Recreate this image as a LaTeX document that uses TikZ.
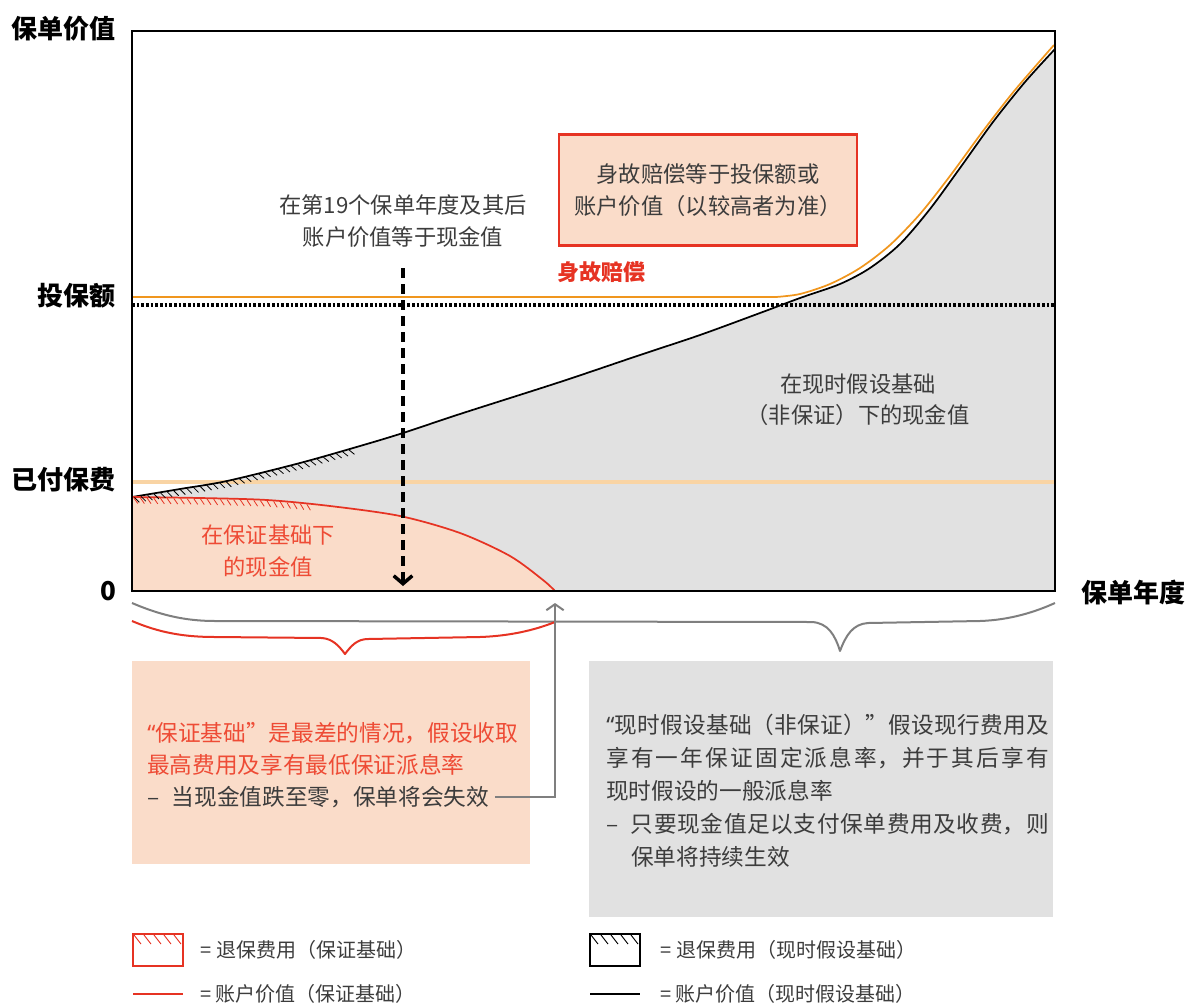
\documentclass[tikz,border=0pt]{standalone}
\usepackage{fontspec}
\setmainfont{Noto Sans CJK SC}
\newfontfamily\quotefont{Noto Sans}
\usetikzlibrary{positioning,arrows.meta,decorations.markings}
\XeTeXlinebreaklocale "zh"
\XeTeXlinebreakskip=0pt plus 2pt

\definecolor{redline}{HTML}{E63323}
\definecolor{redtext}{HTML}{EE4B35}
\definecolor{salmon}{HTML}{FADCC9}
\definecolor{areagray}{HTML}{E1E1E1}
\definecolor{orangeline}{HTML}{F0961E}
\definecolor{paleorange}{HTML}{F9D4A4}
\definecolor{darktext}{HTML}{3C3C3C}
\definecolor{guide}{HTML}{7F7F7F}

\newcommand{\openq}{{\quotefont “}}

\tikzset{
  axislabel/.style={font=\fontsize{19.5}{22}\selectfont\bfseries, text=black},
  chartnote/.style={font=\fontsize{16.7}{23.5}\selectfont, align=center, text=darktext},
  boxtext/.style={font=\fontsize{17}{24}\selectfont, align=left, text=darktext, anchor=west},
  legendtext/.style={font=\fontsize{15}{17}\selectfont, text=darktext, anchor=west},
  legendbox/.style={draw, line width=0.9pt, minimum width=37.5pt, minimum height=24pt},
  hatchmarks/.style={decorate, decoration={markings,
      mark=between positions 0.01 and 0.99 step 5pt with {\draw[#1, line width=0.6pt] (0pt,-0.6pt) -- (3pt,-4.8pt);}}},
  bracestroke/.style={line width=1.5pt, line join=round}
}

\begin{document}
\begin{tikzpicture}[x=0.75pt, y=-0.75pt, every node/.style={inner sep=0pt}]
  \useasboundingbox (0,0) rectangle (1188,1003);

  % cash value areas
  \fill[areagray] (132,591) -- plot[smooth] coordinates {(132,497) (180,489) (227,481) (300,463) (360,446) (403,433) (460,414) (560,382) (640,355) (700,335) (760,313) (800,298) (840,284) (870,268) (900,244) (930,209) (960,168) (993,122) (1025,82) (1055,49)} -- (1055,591) -- cycle;
  \fill[salmon] (132,591) -- plot[smooth] coordinates {(132,497) (200,498) (267,500) (330,506) (400,516) (460,533) (510,556) (543,580) (555,591)} -- cycle;

  % levels
  \draw[paleorange, line width=3pt] (132,482) -- (1055,482);
  \draw[black, line width=2.4pt, dash pattern=on 2pt off 1.5pt] (132,305) -- (1055,305);
  \draw[orangeline, line width=1.3pt] (132,297) -- (776,297) -- plot[smooth] coordinates {(776,297) (800,294) (830,284) (860,268) (890,245) (920,214) (950,176) (983,131) (1015,90) (1054,45)};

  % account values
  \draw[black, line width=1.3pt] plot[smooth] coordinates {(132,497) (180,489) (227,481) (300,463) (360,446) (403,433) (460,414) (560,382) (640,355) (700,335) (760,313) (800,298) (840,284) (870,268) (900,244) (930,209) (960,168) (993,122) (1025,82) (1055,49)};
  \draw[redline, line width=1.3pt] plot[smooth] coordinates {(132,497) (200,498) (267,500) (330,506) (400,516) (460,533) (510,556) (543,580) (555,591)};

  % surrender charges
  \path[hatchmarks=black] (132,497) -- (180,489) -- (227,481) -- (300,463) -- (357,447);
  \path[hatchmarks=redline] (132,497) -- (200,498) -- (267,500) -- (313,504);

  \draw[line width=2pt] (132,31) rectangle (1055,591);

  % axes
  \node[axislabel] (valuelbl) at (64,29) {保单价值};
  \node[axislabel, anchor=east] (sumlbl) at (116,296) {投保额};
  \node[axislabel, anchor=east] (premlbl) at (116,480) {已付保费};
  \node[axislabel, anchor=east] (zerolbl) at (117,591) {0};
  \node[axislabel] (yearlbl) at (1133,592) {保单年度};

  % notes in the chart
  \node[chartnote] (yearnote) at (403,221) {在第19个保单年度及其后\\账户价值等于现金值};
  \coordinate (arrtop) at (403,268);
  \coordinate (arrbot) at (403,586);
  \draw[line width=2.6pt, dash pattern=on 7.5pt off 4.5pt, -{Straight Barb[length=6pt,width=14pt]}] (arrtop) -- (arrbot);

  \node[chartnote, draw=redline, line width=2pt, fill=salmon, minimum width=223.5pt, minimum height=83pt] (deathnote) at (708,190) {身故赔偿等于投保额或\\账户价值（以较高者为准）};
  \node[chartnote, font=\fontsize{16.5}{20}\selectfont\bfseries, text=redline] (deathlbl) at (601,272) {身故赔偿};
  \node[chartnote] (curnote) at (858,400) {在现时假设基础\\（非保证）下的现金值};
  \node[chartnote, text=redtext] (guarnote) at (268,551) {在保证基础下\\的现金值};

  % braces
  \draw[guide, bracestroke] (132,603) .. controls (160,615) and (185,621) .. (215,621) -- (812,622) .. controls (828,623) and (835,635) .. (840,651) .. controls (846,635) and (853,624) .. (868,623) -- (980,621) .. controls (1010,620) and (1035,612) .. (1055,603);
  \draw[redline, bracestroke] (132,621) .. controls (160,633) and (185,637) .. (215,637) -- (322,638) .. controls (333,639) and (339,646) .. (345,654) .. controls (351,646) and (357,639) .. (368,639) -- (480,637) .. controls (510,636) and (535,630) .. (555,622);

  % explanations
  \fill[salmon] (132,661) rectangle (530,864);
  \fill[areagray] (589,661) rectangle (1053,917);
  \node[boxtext, text=redtext] (guarbasis) at (147,749) {\openq 保证基础”是最差的情况，假设收取\\最高费用及享有最低保证派息率};
  \node[boxtext] (lapse) at (147,797) {–\hspace{0.55em}当现金值跌至零，保单将会失效};
  \coordinate (zerohit) at (555,603);
  \draw[guide, line width=1.5pt, -{Straight Barb[length=4.5pt,width=13pt]}] ([xshift=4pt]lapse.east) -| (zerohit);
  \node[boxtext, font=\fontsize{17}{24.7}\selectfont, text width=332pt, align=justify] (curbasis) at (606,791) {\openq 现时假设基础（非保证）”假设现行费用及\linebreak 享有一年保证固定派息率，并于其后享有\linebreak 现时假设的一般派息率\\–\hspace{0.55em}只要现金值足以支付保单费用及收费，则\linebreak \hspace*{1.1em}保单将持续生效};

  % legend
  \node[legendbox, draw=redline] (lgredbox) at (158,950) {};
  \foreach \x in {134,144,...,174} \draw[redline, line width=0.7pt] (\x,935) -- (\x+7,944);
  \node[legendtext, right=12.75pt of lgredbox] (lgredtxt) {= 退保费用（保证基础）};
  \node[legendbox, draw=black] (lgblkbox) at (615,950) {};
  \foreach \x in {591,601,...,631} \draw[black, line width=0.7pt] (\x,935) -- (\x+7,944);
  \node[legendtext, right=15pt of lgblkbox] (lgblktxt) {= 退保费用（现时假设基础）};

  \coordinate (lgredA) at (133,994);
  \coordinate (lgredB) at (183,994);
  \draw[redline, line width=1.2pt] (lgredA) -- (lgredB);
  \node[legendtext, right=12.75pt of lgredB] (lgredval) {= 账户价值（保证基础）};
  \coordinate (lgblkA) at (590,994);
  \coordinate (lgblkB) at (640,994);
  \draw[black, line width=1.2pt] (lgblkA) -- (lgblkB);
  \node[legendtext, right=15pt of lgblkB] (lgblkval) {= 账户价值（现时假设基础）};
\end{tikzpicture}
\end{document}
